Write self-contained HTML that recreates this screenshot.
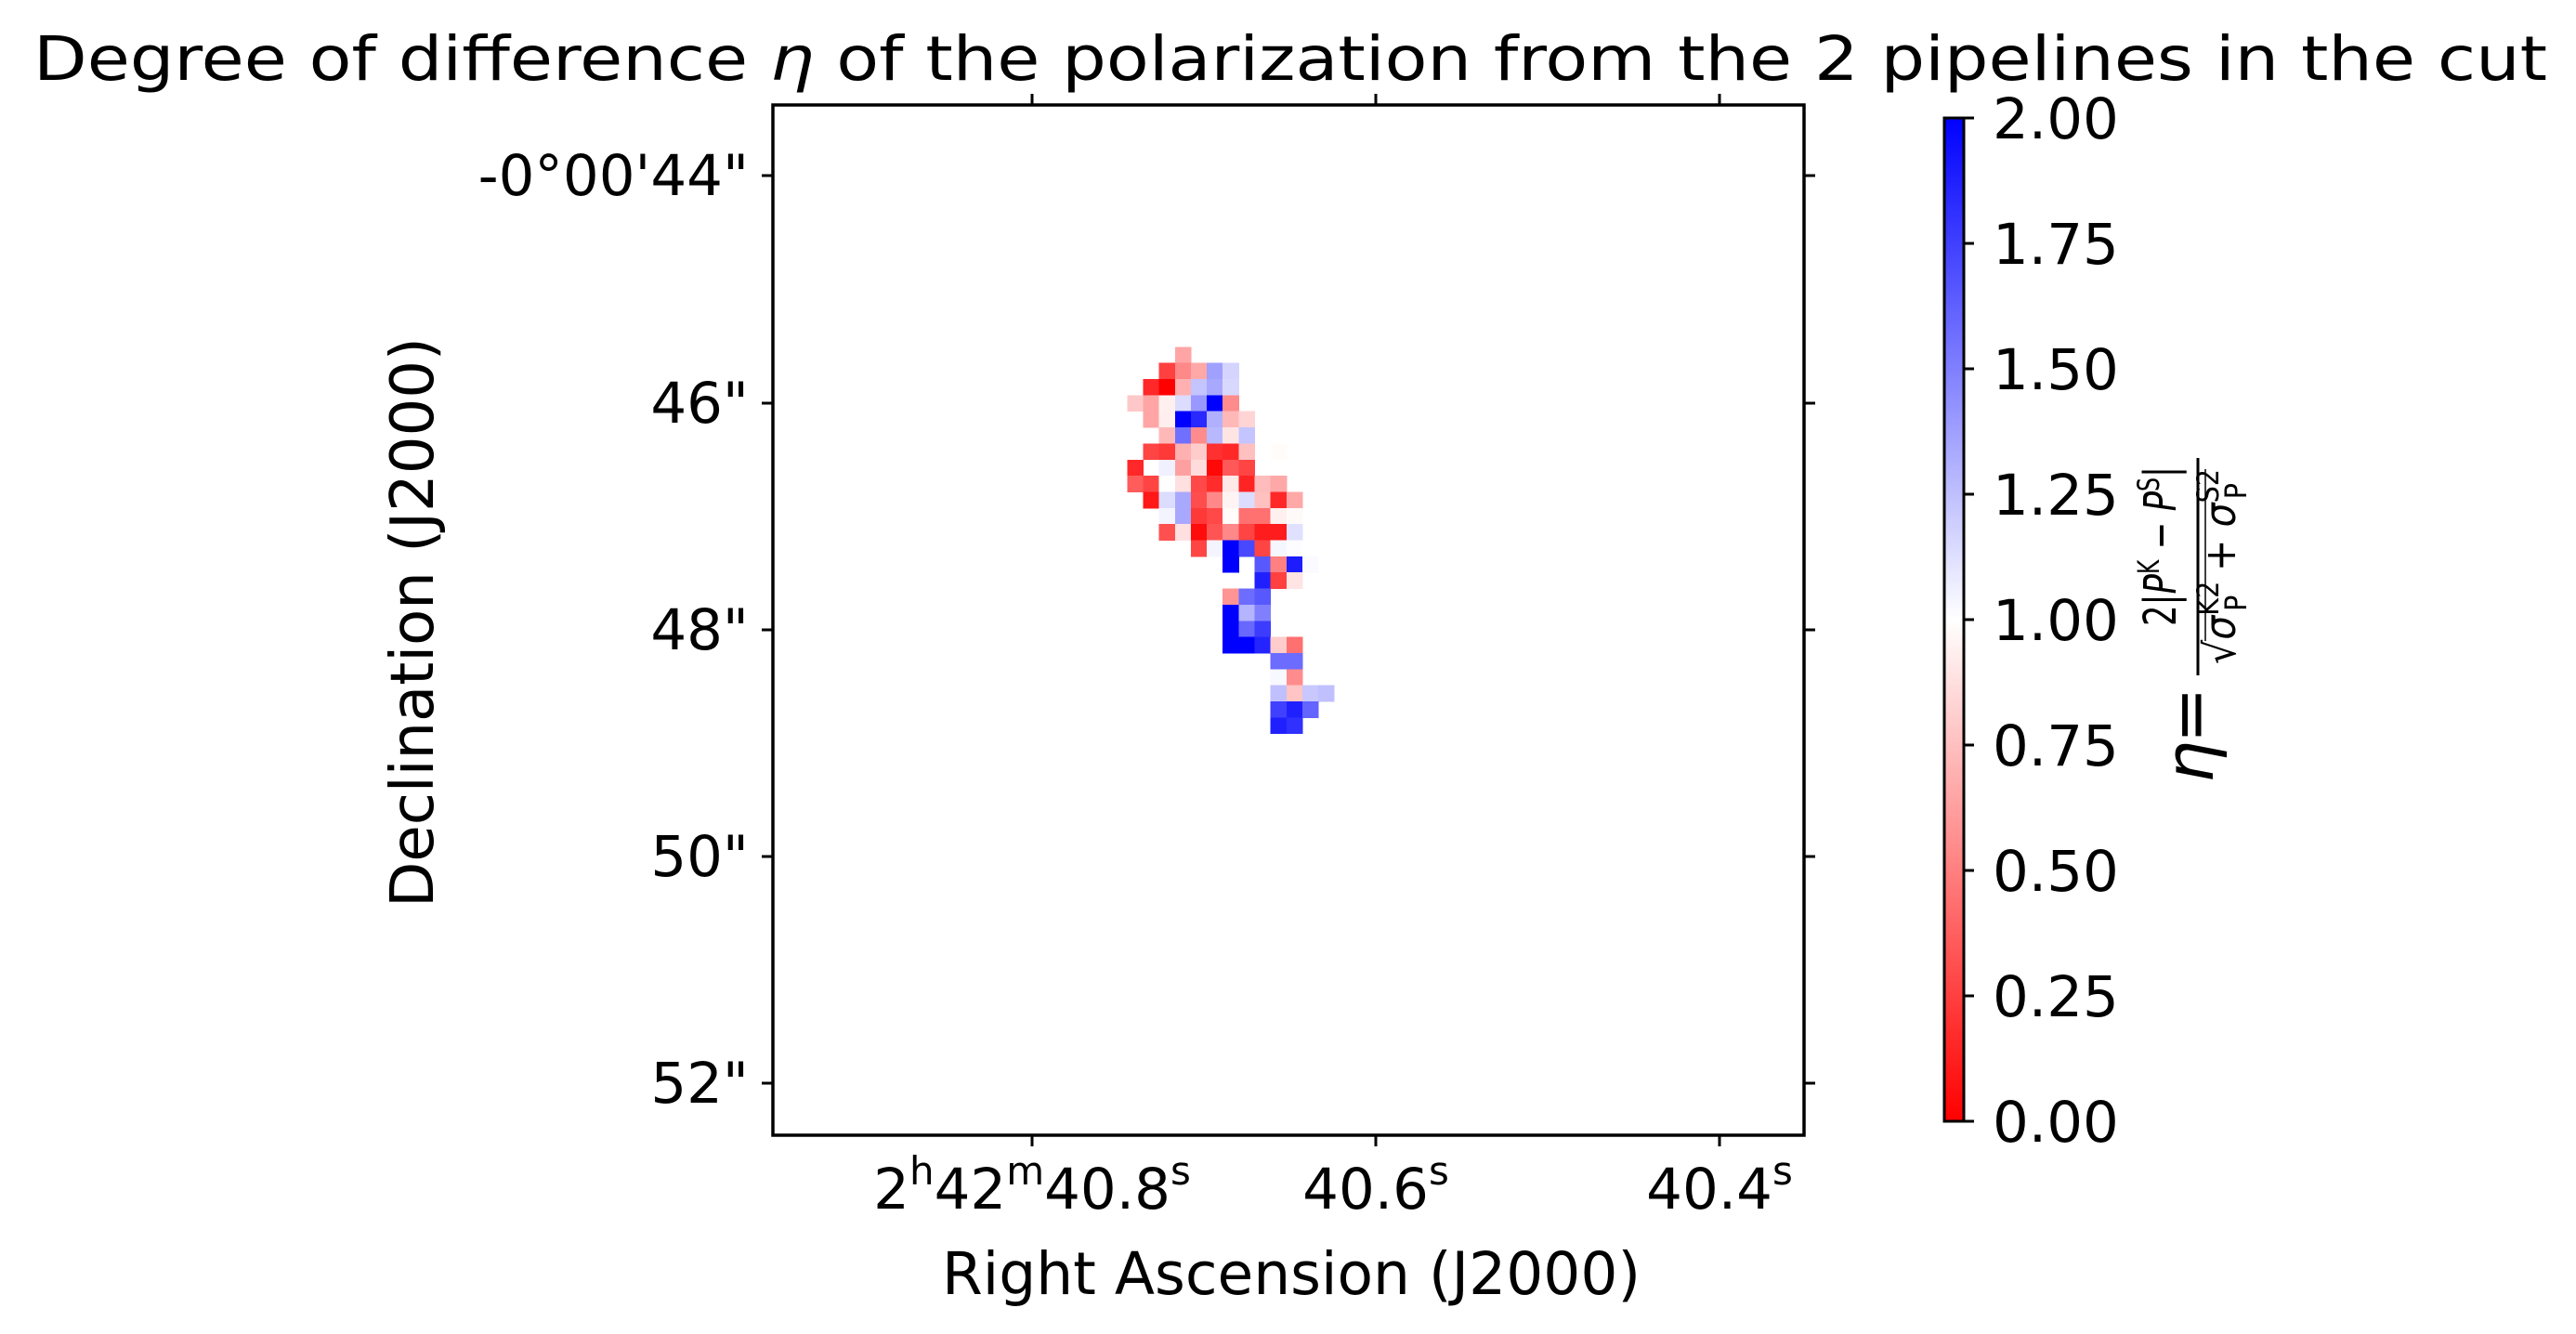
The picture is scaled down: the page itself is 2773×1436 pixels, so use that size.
<!DOCTYPE html>
<html><head><meta charset="utf-8"><style>
html,body{margin:0;padding:0;background:#fff}
svg{display:block}
text{font-family:"DejaVu Sans","Liberation Sans",sans-serif;fill:#000}
</style></head><body>
<svg width="2773" height="1436" viewBox="0 0 2773 1436" xmlns="http://www.w3.org/2000/svg">
<defs>
<linearGradient id="cb" x1="0" y1="1" x2="0" y2="0">
<stop offset="0" stop-color="#ff0000"/><stop offset="0.5" stop-color="#ffffff"/><stop offset="1" stop-color="#0000ff"/>
</linearGradient>
</defs>
<rect width="2773" height="1436" fill="#fff"/>
<text x="36" y="86" font-size="66" textLength="2706" lengthAdjust="spacingAndGlyphs">Degree of difference <tspan font-style="italic">η</tspan> of the polarization from the 2 pipelines in the cut</text>

<g shape-rendering="crispEdges">
<g transform="translate(0,373.3)"><rect x="1264.8" width="17.6" height="17.8" fill="#ffa5a5"/></g>
<g transform="translate(0,390.7)"><rect x="1247.6" width="17.6" height="17.8" fill="#ff4040"/><rect x="1264.8" width="17.6" height="17.8" fill="#ff8888"/><rect x="1281.9" width="17.6" height="17.8" fill="#ffa8a8"/><rect x="1299.1" width="17.6" height="17.8" fill="#a0a0ff"/><rect x="1316.2" width="17.6" height="17.8" fill="#d4d4ff"/></g>
<g transform="translate(0,408.0)"><rect x="1230.5" width="17.6" height="17.8" fill="#ff2828"/><rect x="1247.6" width="17.6" height="17.8" fill="#ff0000"/><rect x="1264.8" width="17.6" height="17.8" fill="#ffb0b0"/><rect x="1281.9" width="17.6" height="17.8" fill="#c4c4ff"/><rect x="1299.1" width="17.6" height="17.8" fill="#a8a8ff"/><rect x="1316.2" width="17.6" height="17.8" fill="#d8d8ff"/></g>
<g transform="translate(0,425.4)"><rect x="1213.3" width="17.6" height="17.8" fill="#ffc8c8"/><rect x="1230.5" width="17.6" height="17.8" fill="#ffa5a5"/><rect x="1247.6" width="17.6" height="17.8" fill="#fff0f0"/><rect x="1264.8" width="17.6" height="17.8" fill="#dcdcff"/><rect x="1281.9" width="17.6" height="17.8" fill="#9898ff"/><rect x="1299.1" width="17.6" height="17.8" fill="#0000ff"/><rect x="1316.2" width="17.6" height="17.8" fill="#ff8c8c"/></g>
<g transform="translate(0,442.7)"><rect x="1230.5" width="17.6" height="17.8" fill="#ffa5a5"/><rect x="1247.6" width="17.6" height="17.8" fill="#ffeeee"/><rect x="1264.8" width="17.6" height="17.8" fill="#0000ff"/><rect x="1281.9" width="17.6" height="17.8" fill="#2828ff"/><rect x="1299.1" width="17.6" height="17.8" fill="#b0b0ff"/><rect x="1316.2" width="17.6" height="17.8" fill="#ffb8b8"/><rect x="1333.4" width="17.6" height="17.8" fill="#ffd4d4"/></g>
<g transform="translate(0,460.1)"><rect x="1247.6" width="17.6" height="17.8" fill="#ffb8b8"/><rect x="1264.8" width="17.6" height="17.8" fill="#7070ff"/><rect x="1281.9" width="17.6" height="17.8" fill="#ff8c8c"/><rect x="1299.1" width="17.6" height="17.8" fill="#b8b8ff"/><rect x="1316.2" width="17.6" height="17.8" fill="#ffe4e4"/><rect x="1333.4" width="17.6" height="17.8" fill="#c4c4ff"/></g>
<g transform="translate(0,477.4)"><rect x="1230.5" width="17.6" height="17.8" fill="#ff4444"/><rect x="1247.6" width="17.6" height="17.8" fill="#ff3838"/><rect x="1264.8" width="17.6" height="17.8" fill="#ffb0b0"/><rect x="1281.9" width="17.6" height="17.8" fill="#ffcccc"/><rect x="1299.1" width="17.6" height="17.8" fill="#ff3030"/><rect x="1316.2" width="17.6" height="17.8" fill="#ff2828"/><rect x="1333.4" width="17.6" height="17.8" fill="#ffc0c0"/><rect x="1367.7" width="17.6" height="17.8" fill="#fffcfa"/></g>
<g transform="translate(0,494.8)"><rect x="1213.3" width="17.6" height="17.8" fill="#ff2828"/><rect x="1247.6" width="17.6" height="17.8" fill="#f0f0ff"/><rect x="1264.8" width="17.6" height="17.8" fill="#ffa0a0"/><rect x="1281.9" width="17.6" height="17.8" fill="#ffdcdc"/><rect x="1299.1" width="17.6" height="17.8" fill="#ff0808"/><rect x="1316.2" width="17.6" height="17.8" fill="#ff5858"/><rect x="1333.4" width="17.6" height="17.8" fill="#ff4444"/></g>
<g transform="translate(0,512.1)"><rect x="1213.3" width="17.6" height="17.8" fill="#ff5c5c"/><rect x="1230.5" width="17.6" height="17.8" fill="#ff4444"/><rect x="1247.6" width="17.6" height="17.8" fill="#fefefe"/><rect x="1264.8" width="17.6" height="17.8" fill="#ffe0e0"/><rect x="1281.9" width="17.6" height="17.8" fill="#ff4848"/><rect x="1299.1" width="17.6" height="17.8" fill="#ff2c2c"/><rect x="1316.2" width="17.6" height="17.8" fill="#ffe8e8"/><rect x="1333.4" width="17.6" height="17.8" fill="#ff2424"/><rect x="1350.5" width="17.6" height="17.8" fill="#ffbcbc"/><rect x="1367.7" width="17.6" height="17.8" fill="#ffa8a8"/></g>
<g transform="translate(0,529.5)"><rect x="1230.5" width="17.6" height="17.8" fill="#ff1818"/><rect x="1247.6" width="17.6" height="17.8" fill="#dcdcff"/><rect x="1264.8" width="17.6" height="17.8" fill="#a8a8ff"/><rect x="1281.9" width="17.6" height="17.8" fill="#ff4c4c"/><rect x="1299.1" width="17.6" height="17.8" fill="#ff8888"/><rect x="1316.2" width="17.6" height="17.8" fill="#fff4f4"/><rect x="1333.4" width="17.6" height="17.8" fill="#dcdcff"/><rect x="1350.5" width="17.6" height="17.8" fill="#ffc0c0"/><rect x="1367.7" width="17.6" height="17.8" fill="#ff2828"/><rect x="1384.8" width="17.6" height="17.8" fill="#ffa8a8"/></g>
<g transform="translate(0,546.8)"><rect x="1247.6" width="17.6" height="17.8" fill="#f4f4ff"/><rect x="1264.8" width="17.6" height="17.8" fill="#a8a8ff"/><rect x="1281.9" width="17.6" height="17.8" fill="#ff3838"/><rect x="1299.1" width="17.6" height="17.8" fill="#ff4848"/><rect x="1316.2" width="17.6" height="17.8" fill="#fffcfa"/><rect x="1333.4" width="17.6" height="17.8" fill="#ff7070"/><rect x="1350.5" width="17.6" height="17.8" fill="#ff7070"/><rect x="1367.7" width="17.6" height="17.8" fill="#fff0f0"/><rect x="1384.8" width="17.6" height="17.8" fill="#fffafa"/></g>
<g transform="translate(0,564.2)"><rect x="1247.6" width="17.6" height="17.8" fill="#ff5050"/><rect x="1264.8" width="17.6" height="17.8" fill="#ffe0e0"/><rect x="1281.9" width="17.6" height="17.8" fill="#ff0c0c"/><rect x="1299.1" width="17.6" height="17.8" fill="#ff5454"/><rect x="1316.2" width="17.6" height="17.8" fill="#ff8888"/><rect x="1333.4" width="17.6" height="17.8" fill="#ff4444"/><rect x="1350.5" width="17.6" height="17.8" fill="#ff1c1c"/><rect x="1367.7" width="17.6" height="17.8" fill="#ff1c1c"/><rect x="1384.8" width="17.6" height="17.8" fill="#e0e0ff"/></g>
<g transform="translate(0,581.5)"><rect x="1281.9" width="17.6" height="17.8" fill="#ff4444"/><rect x="1299.1" width="17.6" height="17.8" fill="#f4f4ff"/><rect x="1316.2" width="17.6" height="17.8" fill="#0000ff"/><rect x="1333.4" width="17.6" height="17.8" fill="#4848ff"/><rect x="1350.5" width="17.6" height="17.8" fill="#ff4444"/><rect x="1367.7" width="17.6" height="17.8" fill="#f6f6ff"/><rect x="1384.8" width="17.6" height="17.8" fill="#fdfdff"/></g>
<g transform="translate(0,598.9)"><rect x="1316.2" width="17.6" height="17.8" fill="#0000ff"/><rect x="1350.5" width="17.6" height="17.8" fill="#5858ff"/><rect x="1367.7" width="17.6" height="17.8" fill="#ff8080"/><rect x="1384.8" width="17.6" height="17.8" fill="#1c1cff"/><rect x="1402.0" width="17.6" height="17.8" fill="#fafaff"/></g>
<g transform="translate(0,616.2)"><rect x="1350.5" width="17.6" height="17.8" fill="#2020ff"/><rect x="1367.7" width="17.6" height="17.8" fill="#ff4040"/><rect x="1384.8" width="17.6" height="17.8" fill="#ffe4e4"/></g>
<g transform="translate(0,633.6)"><rect x="1316.2" width="17.6" height="17.8" fill="#ff9494"/><rect x="1333.4" width="17.6" height="17.8" fill="#6c6cff"/><rect x="1350.5" width="17.6" height="17.8" fill="#5858ff"/></g>
<g transform="translate(0,650.9)"><rect x="1316.2" width="17.6" height="17.8" fill="#0000ff"/><rect x="1333.4" width="17.6" height="17.8" fill="#b4b4ff"/><rect x="1350.5" width="17.6" height="17.8" fill="#8080ff"/></g>
<g transform="translate(0,668.3)"><rect x="1316.2" width="17.6" height="17.8" fill="#0000ff"/><rect x="1333.4" width="17.6" height="17.8" fill="#6868ff"/><rect x="1350.5" width="17.6" height="17.8" fill="#3c3cff"/></g>
<g transform="translate(0,685.6)"><rect x="1316.2" width="17.6" height="17.8" fill="#0000ff"/><rect x="1333.4" width="17.6" height="17.8" fill="#0000ff"/><rect x="1350.5" width="17.6" height="17.8" fill="#2424ff"/><rect x="1367.7" width="17.6" height="17.8" fill="#ffcccc"/><rect x="1384.8" width="17.6" height="17.8" fill="#ff7070"/></g>
<g transform="translate(0,703.0)"><rect x="1367.7" width="17.6" height="17.8" fill="#6c6cff"/><rect x="1384.8" width="17.6" height="17.8" fill="#6c6cff"/></g>
<g transform="translate(0,720.3)"><rect x="1367.7" width="17.6" height="17.8" fill="#f8f8ff"/><rect x="1384.8" width="17.6" height="17.8" fill="#ff8c8c"/></g>
<g transform="translate(0,737.7)"><rect x="1367.7" width="17.6" height="17.8" fill="#c0c0ff"/><rect x="1384.8" width="17.6" height="17.8" fill="#ffc4c4"/><rect x="1402.0" width="17.6" height="17.8" fill="#c8c8ff"/><rect x="1419.1" width="17.6" height="17.8" fill="#c0c0ff"/></g>
<g transform="translate(0,755.0)"><rect x="1367.7" width="17.6" height="17.8" fill="#4040ff"/><rect x="1384.8" width="17.6" height="17.8" fill="#2020ff"/><rect x="1402.0" width="17.6" height="17.8" fill="#6464ff"/></g>
<g transform="translate(0,772.4)"><rect x="1367.7" width="17.6" height="17.8" fill="#2020ff"/><rect x="1384.8" width="17.6" height="17.8" fill="#3030ff"/></g>
</g>

<rect x="832" y="113" width="1110" height="1109" fill="none" stroke="#000" stroke-width="3.5"/>
<g stroke="#000" stroke-width="3">
<line x1="820" y1="189" x2="832" y2="189"/><line x1="820" y1="434" x2="832" y2="434"/><line x1="820" y1="678" x2="832" y2="678"/><line x1="820" y1="922" x2="832" y2="922"/><line x1="820" y1="1166" x2="832" y2="1166"/>
<line x1="1942" y1="189" x2="1954" y2="189"/><line x1="1942" y1="434" x2="1954" y2="434"/><line x1="1942" y1="678" x2="1954" y2="678"/><line x1="1942" y1="922" x2="1954" y2="922"/><line x1="1942" y1="1166" x2="1954" y2="1166"/>
<line x1="1111" y1="1222" x2="1111" y2="1234"/><line x1="1481" y1="1222" x2="1481" y2="1234"/><line x1="1851" y1="1222" x2="1851" y2="1234"/>
<line x1="1111" y1="101" x2="1111" y2="113"/><line x1="1481" y1="101" x2="1481" y2="113"/><line x1="1851" y1="101" x2="1851" y2="113"/>
</g>
<g font-size="61" text-anchor="end">
<text x="806" y="210">-0°00'44"</text>
<text x="806" y="455">46"</text>
<text x="806" y="699">48"</text>
<text x="806" y="943">50"</text>
<text x="806" y="1187">52"</text>
</g>
<g font-size="61" text-anchor="middle">
<text x="1111" y="1301">2<tspan font-size="42" dy="-26">h</tspan><tspan dy="26">42</tspan><tspan font-size="42" dy="-26">m</tspan><tspan dy="26">40.8</tspan><tspan font-size="42" dy="-26">s</tspan></text>
<text x="1481" y="1301">40.6<tspan font-size="42" dy="-26">s</tspan></text>
<text x="1851" y="1301">40.4<tspan font-size="42" dy="-26">s</tspan></text>
<text x="1390" y="1393" font-size="63">Right Ascension (J2000)</text>
<text transform="translate(466,670) rotate(-90)" x="0" y="0" font-size="64">Declination (J2000)</text>
</g>

<rect x="2093" y="127" width="21" height="1080" fill="url(#cb)" stroke="#000" stroke-width="3"/>
<g stroke="#000" stroke-width="3">
<line x1="2114" y1="127" x2="2125" y2="127"/><line x1="2114" y1="262" x2="2125" y2="262"/><line x1="2114" y1="397" x2="2125" y2="397"/><line x1="2114" y1="532" x2="2125" y2="532"/><line x1="2114" y1="667" x2="2125" y2="667"/><line x1="2114" y1="802" x2="2125" y2="802"/><line x1="2114" y1="937" x2="2125" y2="937"/><line x1="2114" y1="1072" x2="2125" y2="1072"/><line x1="2114" y1="1207" x2="2125" y2="1207"/>
</g>
<g font-size="61">
<text x="2145" y="149">2.00</text>
<text x="2145" y="284">1.75</text>
<text x="2145" y="419">1.50</text>
<text x="2145" y="554">1.25</text>
<text x="2145" y="689">1.00</text>
<text x="2145" y="824">0.75</text>
<text x="2145" y="959">0.50</text>
<text x="2145" y="1094">0.25</text>
<text x="2145" y="1229">0.00</text>
</g>
<g transform="translate(2366,0) rotate(-90)">
<text x="-843" y="16" font-size="72" font-style="italic">η</text>
<text x="-800" y="16" font-size="72">=</text>
<line x1="-727" y1="0" x2="-493" y2="0" stroke="#000" stroke-width="3"/>
<text x="-588" y="-24" font-size="48" text-anchor="middle" textLength="172" lengthAdjust="spacingAndGlyphs">2|<tspan font-style="italic">P</tspan><tspan font-size="32" dy="-18">K</tspan><tspan dy="18"> − </tspan><tspan font-style="italic">P</tspan><tspan font-size="32" dy="-18">S</tspan><tspan dy="18">|</tspan></text>
<text x="-610" y="40" font-size="46" text-anchor="middle" textLength="210" lengthAdjust="spacingAndGlyphs">√<tspan font-style="italic">σ</tspan><tspan font-size="32" dy="-18">K2</tspan><tspan font-size="32" dx="-36" dy="30">P</tspan><tspan dx="14" dy="-12"> + </tspan><tspan font-style="italic">σ</tspan><tspan font-size="32" dy="-18">S2</tspan><tspan font-size="32" dx="-36" dy="30">P</tspan></text>
<line x1="-690" y1="8" x2="-505" y2="8" stroke="#000" stroke-width="1.5"/>
</g>
</svg>
</body></html>
